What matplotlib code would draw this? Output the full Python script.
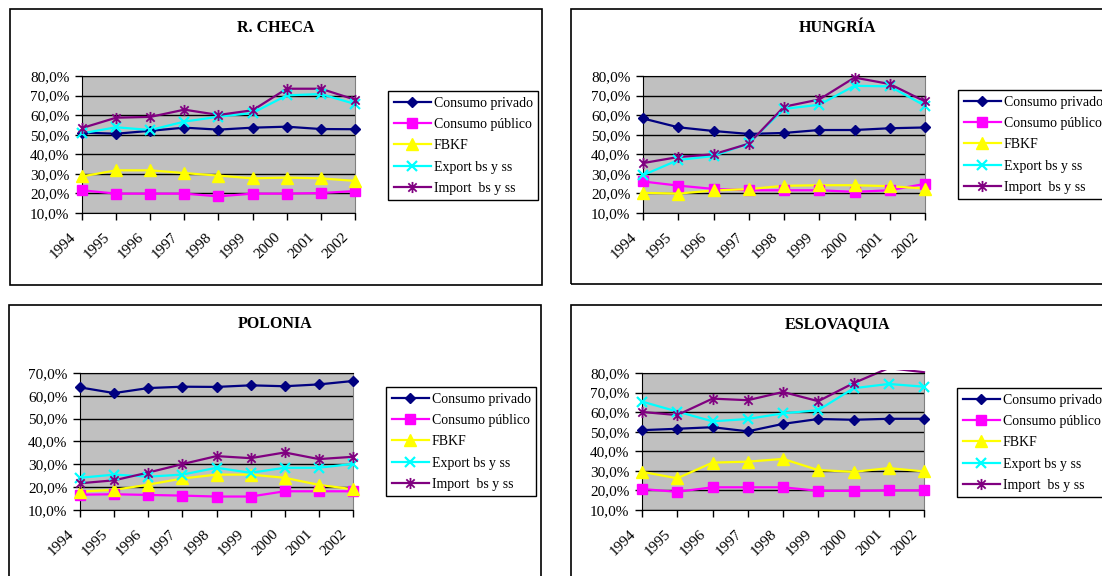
import numpy as np
import matplotlib
matplotlib.use("Agg")
import matplotlib.pyplot as plt
from matplotlib.patches import Rectangle
from matplotlib.path import Path
from matplotlib.lines import Line2D
import matplotlib.transforms as mtransforms

plt.rcParams['font.family'] = ['Liberation Serif', 'DejaVu Serif']

years = ['1994', '1995', '1996', '1997', '1998', '1999', '2000', '2001', '2002']
series_names = ['Consumo privado', 'Consumo público', 'FBKF',
                'Export bs y ss', 'Import  bs y ss']

# shares of GDP (%)
checa_privado = [51.1, 50.5, 52.0, 53.6, 52.6, 53.6, 54.1, 52.9, 52.8]
checa_publico = [21.6, 19.9, 19.9, 19.9, 18.5, 19.9, 19.9, 20.2, 21.2]
checa_fbkf = [28.7, 31.8, 31.8, 30.4, 29.1, 27.7, 28.1, 27.7, 26.4]
checa_export = [50.7, 53.8, 52.4, 56.7, 59.2, 61.1, 70.1, 70.8, 65.7]
checa_import = [53.4, 58.7, 59.1, 62.8, 60.1, 62.5, 73.5, 73.5, 67.9]

hungria_privado = [58.3, 53.8, 51.9, 50.4, 50.9, 52.4, 52.4, 53.3, 53.7]
hungria_publico = [26.1, 24.0, 22.3, 21.6, 21.6, 21.6, 20.8, 21.6, 24.9]
hungria_fbkf = [20.3, 19.9, 21.5, 22.2, 23.9, 24.2, 24.2, 23.7, 22.5]
hungria_export = [29.3, 37.1, 39.1, 45.6, 63.2, 65.3, 75.0, 74.7, 64.8]
hungria_import = [35.5, 38.6, 40.0, 45.4, 64.3, 68.0, 79.2, 75.9, 67.0]

polonia_privado = [63.7, 61.2, 63.4, 64.0, 63.9, 64.6, 64.2, 65.0, 66.5]
polonia_publico = [16.7, 16.9, 16.6, 16.3, 15.9, 15.9, 18.2, 18.2, 18.2]
polonia_fbkf = [18.1, 18.8, 21.1, 23.8, 25.5, 25.5, 24.1, 21.0, 19.1]
polonia_export = [24.1, 25.5, 24.6, 25.5, 28.5, 26.3, 28.5, 28.5, 30.2]
polonia_import = [21.7, 23.0, 26.4, 30.1, 33.6, 32.7, 35.2, 32.3, 33.3]

eslovaquia_privado = [50.8, 51.5, 52.3, 50.2, 54.0, 56.5, 56.1, 56.6, 56.6]
eslovaquia_publico = [20.7, 19.3, 21.6, 21.6, 21.6, 19.8, 19.8, 20.0, 20.0]
eslovaquia_fbkf = [29.5, 26.2, 34.2, 34.7, 36.1, 30.4, 29.5, 31.4, 29.7]
eslovaquia_export = [65.4, 60.3, 55.3, 56.5, 59.4, 61.0, 72.2, 74.4, 73.0]
eslovaquia_import = [60.1, 58.5, 66.9, 66.1, 70.3, 65.6, 74.8, 82.5, 80.4]

W, H = 1102, 576


def fx(x):
    return x / W


def fy(y):
    return 1 - y / H


# asterisk marker: an "x" crossed by a vertical bar
asterisk = Path([(0, -1), (0, 1), (-0.75, -0.75), (0.75, 0.75), (-0.75, 0.75), (0.75, -0.75)],
                [Path.MOVETO, Path.LINETO, Path.MOVETO, Path.LINETO, Path.MOVETO, Path.LINETO])

styles = [
    dict(color='#000080', marker='D', ms=5.5, mew=1),
    dict(color='#FF00FF', marker='s', ms=7, mew=1),
    dict(color='#FFFF00', marker='^', ms=8, mew=1),
    dict(color='#00FFFF', marker='x', ms=7, mew=1.6),
    dict(color='#800080', marker=asterisk, ms=8, mew=1.3),
]

panels = [
    dict(title='R. CHECA', frame=(10, 9, 542, 285), plot=(82, 76, 355, 213),
         legend=(388, 91), ylim=(10, 80),
         data=[checa_privado, checa_publico, checa_fbkf, checa_export, checa_import]),
    dict(title='HUNGRÍA', frame=(571, 9, 1104, 284), plot=(643, 76, 925, 213),
         legend=(958, 90), ylim=(10, 80),
         data=[hungria_privado, hungria_publico, hungria_fbkf, hungria_export, hungria_import]),
    dict(title='POLONIA', frame=(9, 305, 541, 590), plot=(80, 373, 353, 510),
         legend=(386, 387), ylim=(10, 70),
         data=[polonia_privado, polonia_publico, polonia_fbkf, polonia_export, polonia_import]),
    dict(title='ESLOVAQUIA', frame=(571, 305, 1104, 590), plot=(642, 373, 924, 510),
         legend=(957, 388), ylim=(10, 80),
         data=[eslovaquia_privado, eslovaquia_publico, eslovaquia_fbkf,
               eslovaquia_export, eslovaquia_import]),
]

fig = plt.figure(figsize=(W / 100, H / 100), dpi=100)


def pct(v, pos):
    return f"{v:.1f}%".replace('.', ',')


for p in panels:
    x0, y0, x1, y1 = p['frame']
    fig.add_artist(Rectangle((fx(x0), fy(y1)), (x1 - x0) / W, (y1 - y0) / H,
                             transform=fig.transFigure, fill=False,
                             edgecolor='black', lw=1.2))
    fig.text(fx((x0 + x1) / 2), fy(28 + y0 - 9), p['title'], ha='center', va='center',
             fontsize=11.5, fontweight='bold')

    l, t, r, b = p['plot']
    ax = fig.add_axes([fx(l), fy(b), (r - l) / W, (b - t) / H])
    ax.set_facecolor('#C0C0C0')
    ax.set_axisbelow(True)
    x = np.arange(len(years))
    lo, hi = p['ylim']

    # lines may run a little past the plot top, markers stay inside the value range
    clip = Rectangle((-0.1, -0.1), 1.2, 1.12, transform=ax.transAxes)
    handles = []
    for vals, st in zip(p['data'], styles):
        vals = np.array(vals)
        ln, = ax.plot(x, vals, color=st['color'], lw=1.6)
        ln.set_clip_path(clip)
        inside = np.where(vals <= hi, vals, np.nan)
        ax.plot(x, inside, ls='none', marker=st['marker'], ms=st['ms'], mew=st['mew'],
                color=st['color'], clip_on=False, zorder=3)
        handles.append(Line2D([], [], color=st['color'], lw=1.6, marker=st['marker'],
                              ms=st['ms'], mew=st['mew']))

    ax.set_xlim(0, len(years) - 1)
    ax.set_ylim(lo, hi)
    ax.set_yticks(np.arange(lo, hi + 1, 10))
    ax.yaxis.set_major_formatter(matplotlib.ticker.FuncFormatter(pct))
    ax.yaxis.grid(True, color='black', lw=1)
    ax.set_xticks(x)
    ax.tick_params(direction='out', length=5, width=1, labelsize=11, pad=3, colors='black')
    ax.tick_params(axis='y', pad=4)
    ax.set_xticklabels(years, rotation=45, ha='right', va='top', rotation_mode='anchor')
    # year labels sit down and to the left of their ticks
    offset = mtransforms.ScaledTranslation(-13 / 100, -6 / 100, fig.dpi_scale_trans)
    for lab in ax.get_xticklabels():
        lab.set_transform(lab.get_transform() + offset)
    for side in ['left', 'bottom', 'top']:
        ax.spines[side].set_color('black')
    ax.spines['right'].set_color('#808080')

    lx, ly = p['legend']
    leg = fig.legend(handles, series_names, loc='upper left',
                     bbox_to_anchor=(fx(lx), fy(ly)), bbox_transform=fig.transFigure,
                     borderaxespad=0, fontsize=10, fancybox=False, framealpha=1,
                     edgecolor='black', handlelength=2.7, handletextpad=0.2,
                     labelspacing=0.6, borderpad=0.4)
    leg.get_frame().set_linewidth(1)

fig.savefig('out.png', dpi=100)
